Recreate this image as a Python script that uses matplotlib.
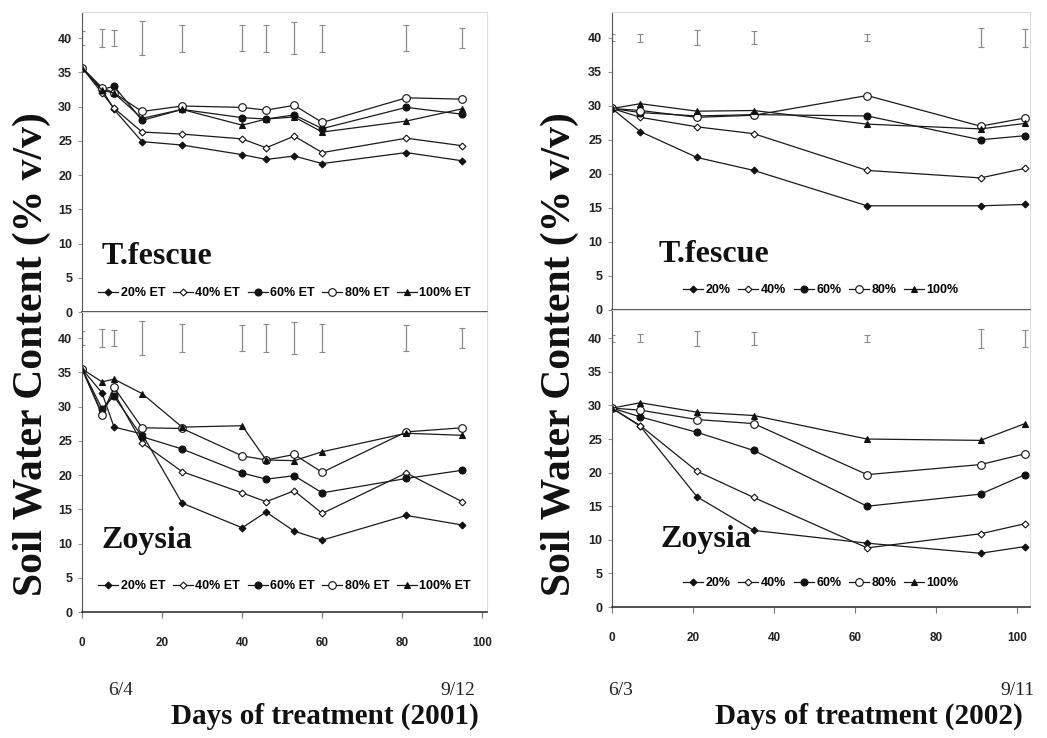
import matplotlib.pyplot as plt

# --- data ---

days_2001 = [0, 5, 8, 15, 25, 40, 46, 53, 60, 81, 95]
days_2002 = [0, 7, 21, 35, 63, 91, 102]

# T.fescue 2001
tf01_20 = [35.7, 32.5, 29.6, 24.9, 24.4, 23.0, 22.3, 22.8, 21.7, 23.3, 22.1]
tf01_40 = [35.7, 32.0, 29.8, 26.3, 26.0, 25.3, 24.0, 25.7, 23.3, 25.4, 24.3]
tf01_60 = [35.7, 32.5, 33.0, 28.0, 29.6, 28.4, 28.2, 28.8, 26.8, 29.9, 28.9]
tf01_80 = [35.7, 32.8, 32.0, 29.3, 30.1, 29.9, 29.5, 30.2, 27.7, 31.3, 31.1]
tf01_100 = [35.7, 32.4, 32.0, 28.3, 29.6, 27.3, 28.2, 28.5, 26.3, 27.9, 29.7]

# Zoysia 2001
zo01_20 = [35.5, 32.0, 27.0, 26.0, 15.9, 12.3, 14.6, 11.8, 10.5, 14.1, 12.7]
zo01_40 = [35.5, 29.0, 32.0, 24.7, 20.5, 17.4, 16.1, 17.7, 14.4, 20.3, 16.1]
zo01_60 = [35.5, 29.7, 31.5, 25.6, 23.8, 20.3, 19.4, 19.9, 17.4, 19.5, 20.7]
zo01_80 = [35.5, 28.8, 32.8, 26.9, 26.8, 22.8, 22.2, 23.0, 20.4, 26.3, 26.9]
zo01_100 = [35.5, 33.6, 34.0, 31.9, 27.0, 27.2, 22.2, 22.1, 23.4, 26.1, 25.8]

# T.fescue 2002
tf02_20 = [29.6, 26.2, 22.4, 20.5, 15.3, 15.3, 15.5]
tf02_40 = [29.6, 28.3, 26.9, 25.9, 20.5, 19.4, 20.8]
tf02_60 = [29.6, 29.0, 28.5, 28.7, 28.5, 25.0, 25.6]
tf02_80 = [29.6, 29.3, 28.3, 28.6, 31.5, 27.0, 28.2]
tf02_100 = [29.6, 30.3, 29.2, 29.3, 27.3, 26.6, 27.4]

# Zoysia 2002
zo02_20 = [29.6, 26.9, 16.4, 11.4, 9.5, 8.0, 9.0]
zo02_40 = [29.6, 27.0, 20.2, 16.3, 8.8, 10.9, 12.4]
zo02_60 = [29.6, 28.3, 26.0, 23.3, 15.0, 16.8, 19.7]
zo02_80 = [29.6, 29.3, 27.9, 27.3, 19.7, 21.2, 22.8]
zo02_100 = [29.6, 30.4, 29.0, 28.5, 25.0, 24.8, 27.3]

# LSD bars drawn around 40
lsd_2001 = [1.0, 1.3, 1.2, 2.5, 2.0, 1.9, 2.0, 2.3, 2.0, 1.9, 1.5]
lsd_2002 = [0.5, 0.6, 1.1, 1.0, 0.5, 1.4, 1.3]

labels_2001 = ['20% ET', '40% ET', '60% ET', '80% ET', '100% ET']
labels_2002 = ['20%', '40%', '60%', '80%', '100%']

# marker style per treatment: (marker, filled, size)
styles = [('D', True, 3.5), ('D', False, 3.5), ('o', True, 5), ('o', False, 5.5), ('^', True, 5)]

sans = ['Liberation Sans', 'DejaVu Sans']
serif = ['Liberation Serif', 'DejaVu Serif']

fig = plt.figure(figsize=(10.47, 7.38), dpi=100)


def panel(rect, days, series, labels, lsd, xmax, ymax, name, name_xy, leg_y, bottom):
    ax = fig.add_axes(rect)
    for vals, lab, (m, filled, ms) in zip(series, labels, styles):
        ax.plot(days, vals, color='#1a1a1a', lw=0.9, marker=m, ms=ms,
                mfc='#111111' if filled else 'white', mec='#111111', mew=0.8,
                label=lab)
    ax.errorbar(days, [40] * len(days), yerr=lsd, fmt='none', ecolor='#8a8a8a',
                elinewidth=0.9, capsize=2, capthick=0.8)
    ax.set_xlim(0, xmax)
    ax.set_ylim(0, ymax)
    ax.set_yticks(range(0, 41, 5))
    ax.set_xticks(range(0, 101, 20))
    ax.tick_params(axis='y', direction='out', length=3, color='#999999', pad=4)
    ax.tick_params(axis='x', direction='out', length=4, color='#777777', pad=14)
    for t in ax.get_yticklabels():
        t.set_family(sans)
        t.set_fontweight('bold')
        t.set_fontsize(9)
        t.set_color('#222222')
    if bottom:
        for t in ax.get_xticklabels():
            t.set_family(sans)
            t.set_fontweight('bold')
            t.set_fontsize(8.5)
            t.set_color('#222222')
    else:
        ax.set_xticklabels([])
    ax.spines['left'].set_color('#555555')
    ax.spines['bottom'].set_color('#333333')
    ax.spines['bottom'].set_linewidth(1.2)
    ax.spines['top'].set_color('#dddddd')
    ax.spines['right'].set_color('#dddddd')
    ax.text(name_xy[0], name_xy[1], name, family=serif, fontweight='bold',
            fontsize=23, va='center', ha='left', color='#111111')
    ax.legend(loc='center', bbox_to_anchor=(0.5, leg_y), ncol=5, frameon=False,
              handlelength=1.6, handletextpad=0.2, columnspacing=0.6,
              prop={'family': sans, 'weight': 'bold', 'size': 9})
    return ax


panel([0.0783, 0.577, 0.387, 0.4065], days_2001,
      [tf01_20, tf01_40, tf01_60, tf01_80, tf01_100], labels_2001, lsd_2001,
      101.2, 43.8, 'T.fescue', (5, 8.2), 0.064, False)
panel([0.0783, 0.1707, 0.387, 0.4065], days_2001,
      [zo01_20, zo01_40, zo01_60, zo01_80, zo01_100], labels_2001, lsd_2001,
      101.2, 43.8, 'Zoysia', (5, 10.4), 0.087, True)
panel([0.5845, 0.58, 0.3992, 0.404], days_2002,
      [tf02_20, tf02_40, tf02_60, tf02_80, tf02_100], labels_2002, lsd_2002,
      103.2, 43.8, 'T.fescue', (11.5, 8.2), 0.066, False)
panel([0.5845, 0.1775, 0.3992, 0.4024], days_2002,
      [zo02_20, zo02_40, zo02_60, zo02_80, zo02_100], labels_2002, lsd_2002,
      103.2, 44.2, 'Zoysia', (12, 10.0), 0.081, True)

# axis titles and date marks
ylab = 'Soil Water Content (% v/v)'
fig.text(0.030, 0.52, ylab, rotation=90, family=serif, fontweight='bold',
         fontsize=30, ha='center', va='center', color='#111111')
fig.text(0.535, 0.52, ylab, rotation=90, family=serif, fontweight='bold',
         fontsize=30, ha='center', va='center', color='#111111')
fig.text(0.31, 0.030, 'Days of treatment (2001)', family=serif, fontweight='bold',
         fontsize=21, ha='center', va='center', color='#111111')
fig.text(0.83, 0.030, 'Days of treatment (2002)', family=serif, fontweight='bold',
         fontsize=21, ha='center', va='center', color='#111111')
for x, s in [(0.115, '6/4'), (0.437, '9/12'), (0.593, '6/3'), (0.972, '9/11')]:
    fig.text(x, 0.065, s, family=serif, fontsize=14, ha='center', va='center',
             color='#222222')

fig.savefig('out.png', dpi=100)
